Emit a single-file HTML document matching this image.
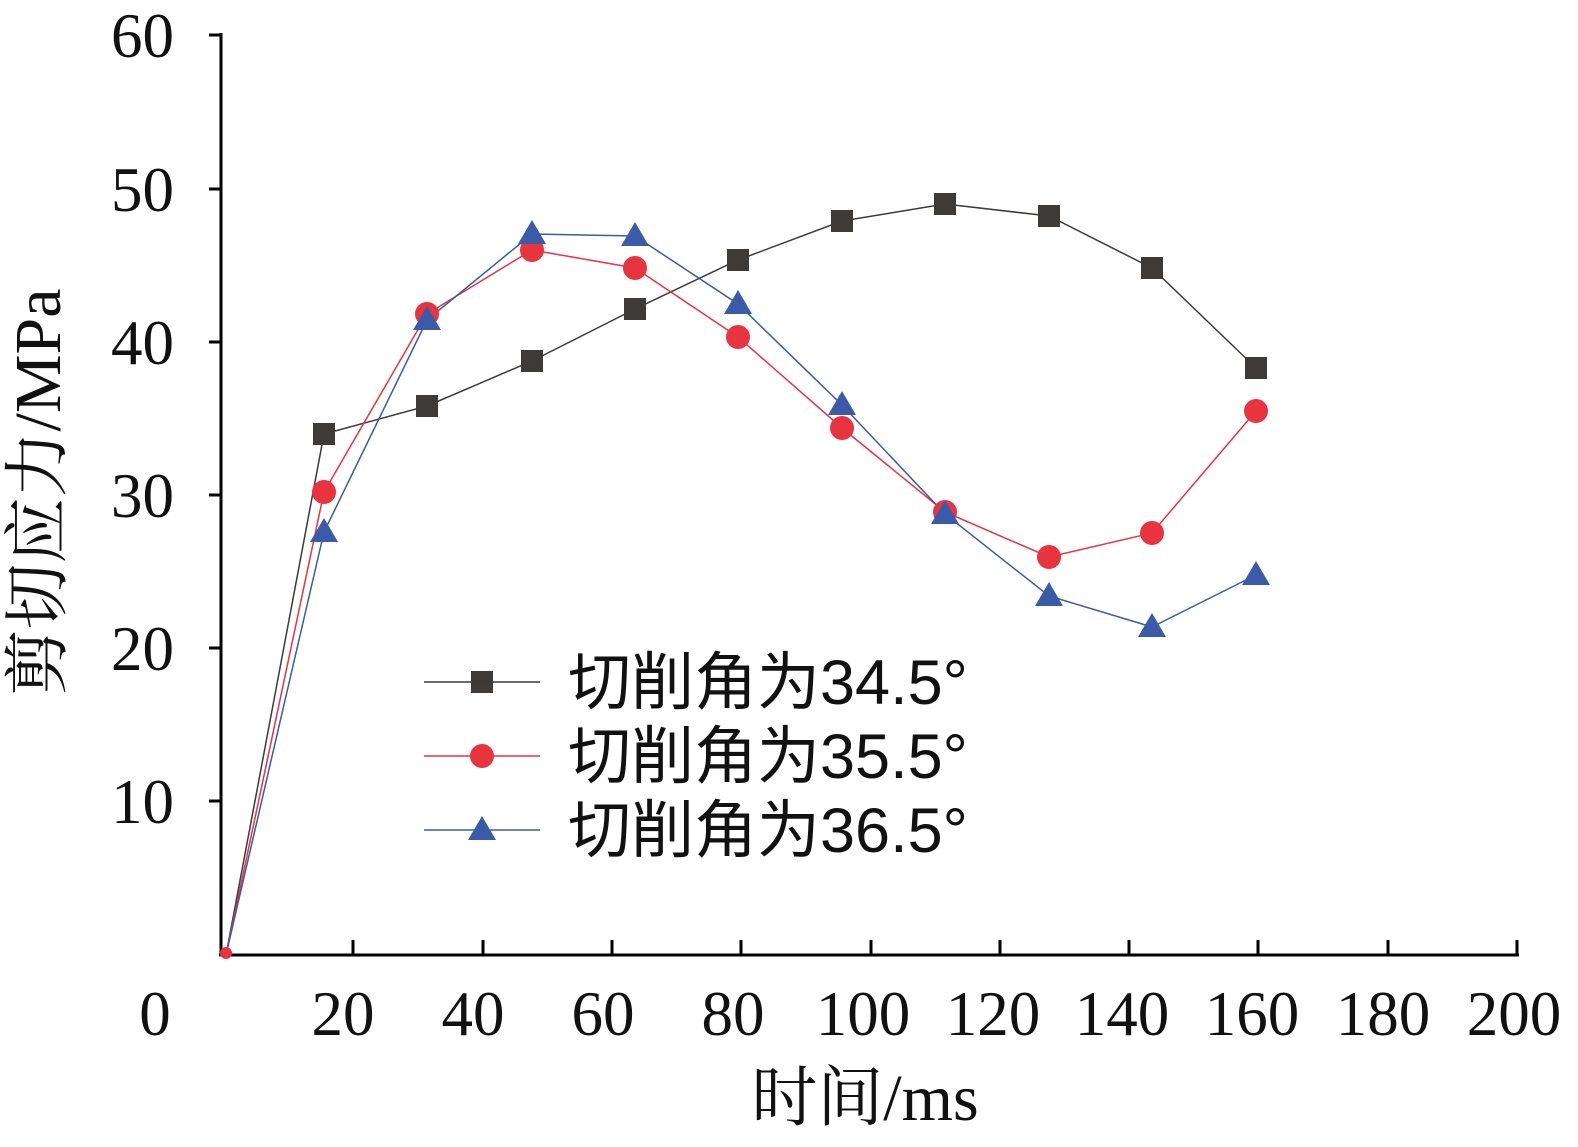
<!DOCTYPE html>
<html><head><meta charset="utf-8"><style>html,body{margin:0;padding:0;background:#fff}</style></head>
<body>
<svg width="1578" height="1142" xmlns="http://www.w3.org/2000/svg" font-family="'Liberation Serif','Noto Serif CJK SC',serif">
<g stroke="#000" stroke-width="3" fill="none">
<line x1="221" y1="33" x2="221" y2="956"/>
<line x1="219" y1="955" x2="1519" y2="955"/>
<line x1="209" y1="35" x2="221" y2="35"/>
<line x1="209" y1="189" x2="221" y2="189"/>
<line x1="209" y1="342" x2="221" y2="342"/>
<line x1="209" y1="495" x2="221" y2="495"/>
<line x1="209" y1="648" x2="221" y2="648"/>
<line x1="209" y1="801" x2="221" y2="801"/>
<line x1="353" y1="940" x2="353" y2="955"/>
<line x1="483" y1="940" x2="483" y2="955"/>
<line x1="612" y1="940" x2="612" y2="955"/>
<line x1="741" y1="940" x2="741" y2="955"/>
<line x1="871" y1="940" x2="871" y2="955"/>
<line x1="1000" y1="940" x2="1000" y2="955"/>
<line x1="1129" y1="940" x2="1129" y2="955"/>
<line x1="1258" y1="940" x2="1258" y2="955"/>
<line x1="1388" y1="940" x2="1388" y2="955"/>
<line x1="1517" y1="940" x2="1517" y2="955"/>
</g>
<g font-size="63" fill="#111" text-anchor="end">
<text x="174" y="57">60</text><text x="174" y="211">50</text><text x="174" y="364">40</text>
<text x="174" y="517">30</text><text x="174" y="670">20</text><text x="174" y="823">10</text>
</g>
<g font-size="63" fill="#111" text-anchor="middle">
<text x="155" y="1035">0</text><text x="343" y="1035">20</text><text x="473" y="1035">40</text>
<text x="603" y="1035">60</text><text x="733" y="1035">80</text><text x="863" y="1035">100</text>
<text x="993" y="1035">120</text><text x="1122" y="1035">140</text><text x="1252" y="1035">160</text>
<text x="1383" y="1035">180</text><text x="1514" y="1035">200</text>
<text x="865" y="1120" font-size="66">时间/ms</text>
<text transform="translate(60,492) rotate(-90)" font-size="66">剪切应力/MPa</text>
</g>
<polyline fill="none" stroke="#3d3a37" stroke-width="1.5" points="226,955 324,434 427,406 532,361 635,309 738,260 842,221 945,204 1049,216 1152,268 1256,368"/>
<polyline fill="none" stroke="#e8343f" stroke-width="1.5" points="226,955 324,492 427,314 532,250 635,268 738,337 842,428 945,512 1049,557 1152,533 1256,411"/>
<polyline fill="none" stroke="#3a5ba8" stroke-width="1.5" points="226,955 324,532 427,320 532,234 635,236 738,304 842,405 945,514 1049,596 1152,627 1256,575"/>
<g fill="#3d3a37">
<rect x="313" y="423" width="22" height="22"/><rect x="416" y="395" width="22" height="22"/><rect x="521" y="350" width="22" height="22"/><rect x="624" y="298" width="22" height="22"/><rect x="727" y="249" width="22" height="22"/><rect x="831" y="210" width="22" height="22"/><rect x="934" y="193" width="22" height="22"/><rect x="1038" y="205" width="22" height="22"/><rect x="1141" y="257" width="22" height="22"/><rect x="1245" y="357" width="22" height="22"/>
<rect x="471" y="671" width="22" height="22"/>
</g>
<g fill="#e8343f">
<circle cx="324" cy="492" r="12"/><circle cx="427" cy="314" r="12"/><circle cx="532" cy="250" r="12"/><circle cx="635" cy="268" r="12"/><circle cx="738" cy="337" r="12"/><circle cx="842" cy="428" r="12"/><circle cx="945" cy="512" r="12"/><circle cx="1049" cy="557" r="12"/><circle cx="1152" cy="533" r="12"/><circle cx="1256" cy="411" r="12"/><circle cx="226" cy="953" r="6"/>
<circle cx="482" cy="756" r="12"/>
</g>
<g fill="#3a5ba8">
<path d="M324,518 l14,24 h-28z M427,306 l14,24 h-28z M532,220 l14,24 h-28z M635,222 l14,24 h-28z M738,290 l14,24 h-28z M842,391 l14,24 h-28z M945,500 l14,24 h-28z M1049,582 l14,24 h-28z M1152,613 l14,24 h-28z M1256,561 l14,24 h-28z M482,816 l14,24 h-28z"/>
</g>
<g stroke-width="1.5">
<line x1="424" y1="682" x2="540" y2="682" stroke="#3d3a37"/>
<line x1="424" y1="756" x2="540" y2="756" stroke="#e8343f"/>
<line x1="424" y1="830" x2="540" y2="830" stroke="#3a5ba8"/>
</g>
<g font-size="63" fill="#111" font-family="'Liberation Sans','Noto Sans CJK SC',sans-serif">
<text x="568" y="704">切削角为34.5°</text>
<text x="568" y="778">切削角为35.5°</text>
<text x="568" y="852">切削角为36.5°</text>
</g>
</svg>
</body></html>
